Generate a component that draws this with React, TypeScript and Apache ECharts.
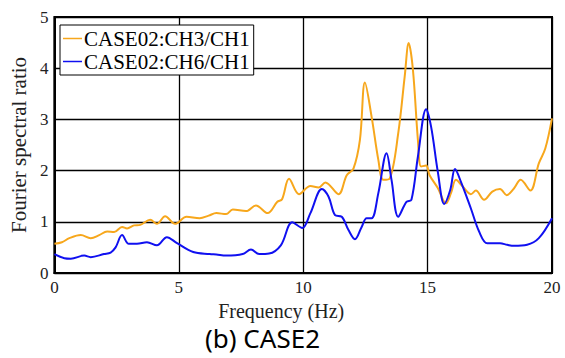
import React, { useEffect, useRef } from "react";
import * as echarts from "echarts";

const ch3Freq = [0, 0.3, 0.6, 1.06, 1.46, 1.8, 2.12, 2.4, 2.72, 2.92, 3.2, 3.45, 3.85, 4.12, 4.45, 4.85, 5.31, 5.84, 6.2, 6.51, 6.9, 7.17, 7.7, 8.1, 8.57, 8.96, 9.15, 9.43, 9.83, 10.29, 10.62, 10.89, 11.42, 11.75, 12.02, 12.28, 12.48, 12.75, 13.02, 13.22, 13.48, 13.82, 14.08, 14.24, 14.41, 14.61, 14.74, 14.94, 15.08, 15.41, 15.74, 15.94, 16.14, 16.41, 16.74, 16.94, 17.27, 17.6, 17.91, 18.18, 18.47, 18.74, 19.13, 19.47, 19.73, 20];
const ch3Vals = [0.57, 0.6, 0.68, 0.74, 0.68, 0.74, 0.81, 0.8, 0.9, 0.87, 0.93, 0.94, 1.04, 0.96, 1.11, 0.96, 1.1, 1.07, 1.12, 1.17, 1.15, 1.24, 1.21, 1.32, 1.17, 1.39, 1.44, 1.84, 1.54, 1.7, 1.67, 1.77, 1.54, 1.91, 2.04, 2.6, 3.72, 3.05, 2.21, 1.82, 1.85, 2.73, 3.84, 4.49, 3.97, 2.6, 2.08, 2.1, 1.91, 1.66, 1.36, 1.56, 1.82, 1.69, 1.54, 1.61, 1.43, 1.59, 1.64, 1.52, 1.65, 1.82, 1.61, 2.14, 2.43, 3.02];

const ch6Freq = [0, 0.4, 0.66, 1.2, 1.46, 1.99, 2.26, 2.46, 2.72, 2.99, 3.32, 3.72, 4.12, 4.52, 4.91, 5.58, 6.24, 6.51, 6.9, 7.57, 7.9, 8.23, 8.63, 9.1, 9.56, 9.96, 10.29, 10.75, 11.02, 11.28, 11.55, 11.82, 12.08, 12.35, 12.55, 12.75, 13.02, 13.35, 13.55, 13.82, 14.15, 14.35, 14.61, 14.94, 15.14, 15.41, 15.67, 15.91, 16.1, 16.34, 16.74, 17.07, 17.4, 17.91, 18.2, 18.47, 19.0, 19.47, 20];
const ch6Vals = [0.37, 0.29, 0.28, 0.34, 0.31, 0.37, 0.4, 0.5, 0.74, 0.57, 0.57, 0.6, 0.54, 0.7, 0.59, 0.41, 0.37, 0.36, 0.34, 0.37, 0.46, 0.37, 0.38, 0.54, 0.99, 0.88, 1.17, 1.64, 1.49, 1.13, 1.1, 0.84, 0.66, 0.9, 1.07, 1.07, 1.56, 2.34, 1.82, 1.1, 1.39, 1.43, 2.27, 3.2, 2.86, 1.98, 1.35, 1.62, 2.03, 1.78, 1.26, 0.81, 0.58, 0.58, 0.55, 0.53, 0.55, 0.68, 1.07];

const seriesNames = ["CASE02:CH3/CH1", "CASE02:CH6/CH1"];
const xTicks = [0, 5, 10, 15, 20];
const yTicks = [0, 1, 2, 3, 4, 5];
const titleText = "(b) CASE2";
const xName = "Frequency (Hz)";
const yName = "Fourier spectral ratio";

const serif = "'Liberation Serif', 'DejaVu Serif', serif";

export default function App() {
  const ref = useRef<HTMLDivElement>(null);
  useEffect(() => {
    if (!ref.current) return;
    const chart = echarts.init(ref.current, undefined, { renderer: "svg" });
    const pairs = (xs: number[], ys: number[]) => xs.map((x, i) => [x, ys[i]]);
    chart.setOption({
      animation: false,
      backgroundColor: "#ffffff",
      graphic: [
        {
          type: "text",
          left: 205,
          top: 325,
          style: {
            text: titleText,
            fontFamily: "'Noto Sans', sans-serif",
            fontSize: 26,
            fill: "#000",
          },
        },
      ],
      legend: {
        orient: "vertical",
        left: 60,
        top: 25,
        data: seriesNames,
        icon: "rect",
        backgroundColor: "#ffffff",
        borderColor: "#000",
        borderWidth: 1,
        borderRadius: 0,
        padding: [3, 4, 3, 3],
        itemGap: 2,
        itemWidth: 19,
        itemHeight: 1.5,
        textStyle: { fontFamily: serif, fontSize: 21, color: "#000", padding: [0, 0, 0, -3] },
      },
      grid: {
        left: 50,
        right: 13,
        top: 17,
        bottom: 85,
        show: true,
        borderColor: "#000",
        borderWidth: 2,
      },
      xAxis: {
        type: "value",
        min: xTicks[0],
        max: xTicks[xTicks.length - 1],
        interval: 5,
        name: xName,
        nameLocation: "middle",
        nameGap: 25,
        nameTextStyle: { fontFamily: serif, fontSize: 20, color: "#222", padding: [0, 44, 0, 0] },
        axisLine: { show: true, lineStyle: { color: "#000", width: 2 } },
        axisTick: { show: false },
        axisLabel: { fontFamily: serif, fontSize: 17, color: "#222", margin: 6 },
        splitLine: { show: true, lineStyle: { color: "#000", width: 1.3 } },
      },
      yAxis: {
        type: "value",
        min: yTicks[0],
        max: yTicks[yTicks.length - 1],
        interval: 1,
        name: yName,
        nameLocation: "middle",
        nameGap: 15,
        nameTextStyle: { fontFamily: serif, fontSize: 21, color: "#222" },
        axisLine: { show: true, lineStyle: { color: "#000", width: 2 } },
        axisTick: { show: false },
        axisLabel: { fontFamily: serif, fontSize: 17, color: "#222", margin: 6 },
        splitLine: { show: true, lineStyle: { color: "#000", width: 1.3 } },
      },
      series: [
        {
          name: seriesNames[0],
          type: "line",
          data: pairs(ch3Freq, ch3Vals),
          symbol: "none",
          smooth: 0.35,
          lineStyle: { color: "#F7A71C", width: 2 },
          itemStyle: { color: "#F7A71C" },
        },
        {
          name: seriesNames[1],
          type: "line",
          data: pairs(ch6Freq, ch6Vals),
          symbol: "none",
          smooth: 0.35,
          lineStyle: { color: "#1010F0", width: 2 },
          itemStyle: { color: "#1010F0" },
        },
      ],
    });
    return () => chart.dispose();
  }, []);
  return (
    <div
      ref={ref}
      style={{ position: "fixed", left: 0, top: 0, width: 565, height: 358 }}
    />
  );
}
